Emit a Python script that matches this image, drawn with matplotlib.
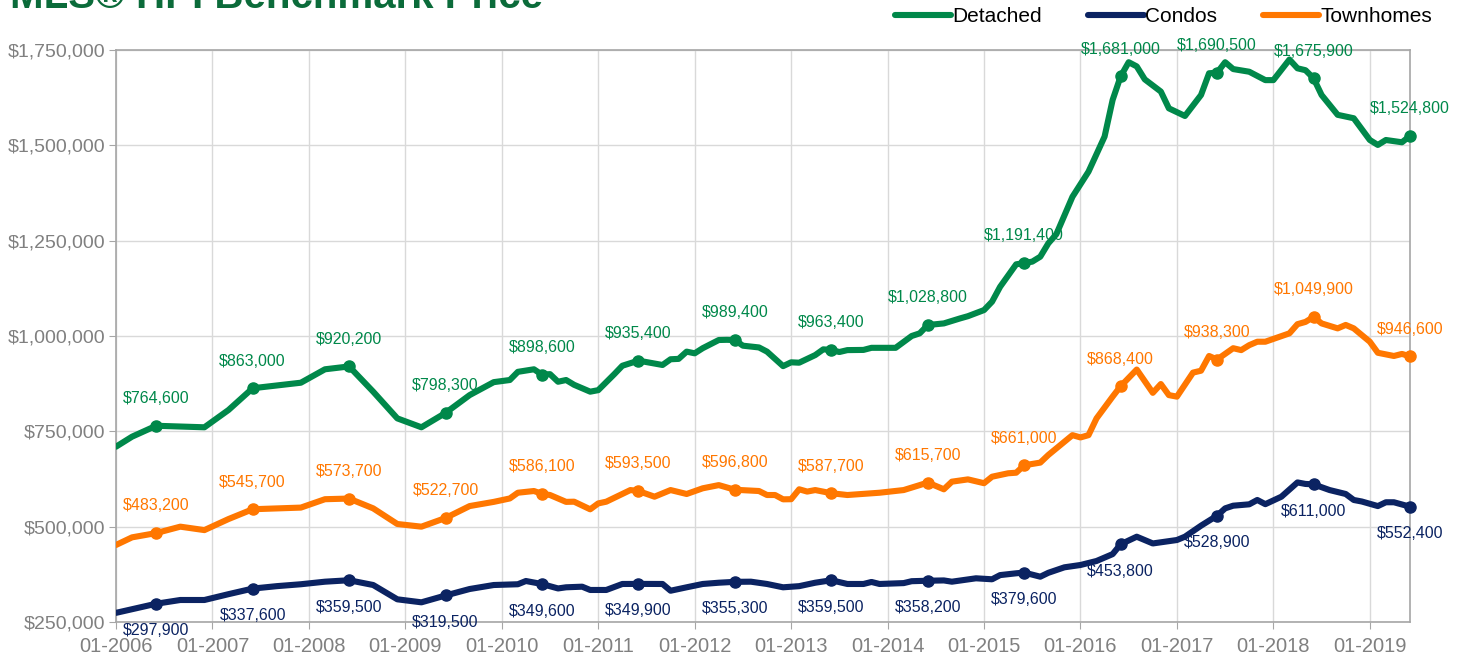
import matplotlib
matplotlib.use("Agg")
import matplotlib.pyplot as plt
from matplotlib.ticker import FuncFormatter
from matplotlib.lines import Line2D

plt.rcParams['font.family'] = ['Liberation Sans', 'DejaVu Sans']

# months counted from 01-2006 (0 = Jan 2006)
det_m = [0, 2, 5, 11, 14, 17, 23, 26, 29, 32, 35, 38, 41, 44, 47, 49, 50, 52, 53, 54, 55, 56,
         57, 59, 60, 62, 63, 65, 68, 69, 70, 71, 72, 73, 75, 76, 77, 78, 80, 81, 83, 84, 85, 87,
         88, 89, 90, 91, 93, 94, 97, 99, 100, 101, 103, 105, 106, 108, 109, 110, 112, 113, 114,
         115, 116, 117, 119, 121, 123, 124, 125, 126, 127, 128, 130, 131, 133, 135, 136, 137,
         138, 139, 141, 143, 144, 146, 147, 148, 149, 150, 152, 154, 156, 157, 158, 160, 161]
det_v = [709700, 736000, 764600, 760600, 806000, 863000, 877500, 912700, 920200, 854000, 784000,
         760600, 798300, 845000, 879000, 884600, 906000, 912700, 898600, 900000, 880000, 884600,
         872000, 854000, 858000, 900000, 922000, 935400, 924000, 939000, 940000, 959000, 954600,
         968000, 989500, 990000, 989400, 974600, 970000, 959000, 921000, 931000, 930000, 950000,
         965000, 963400, 958000, 963000, 963500, 969000, 969000, 1000000, 1007000, 1028800,
         1033000, 1046000, 1052000, 1068000, 1090000, 1129000, 1188000, 1191400, 1195000,
         1208000, 1243000, 1267000, 1365000, 1431000, 1523000, 1619000, 1681000, 1718000,
         1707000, 1673000, 1641000, 1597000, 1577000, 1632000, 1689000, 1690500, 1718000,
         1700000, 1693000, 1671000, 1671000, 1725000, 1702000, 1697000, 1675900, 1632000,
         1580000, 1571000, 1514000, 1501000, 1514000, 1508000, 1524800]

town_m = [0, 2, 5, 8, 11, 14, 17, 23, 26, 29, 32, 35, 38, 41, 44, 47, 49, 50, 52, 53, 54, 55, 56,
          57, 59, 60, 61, 64, 65, 67, 69, 71, 73, 75, 77, 80, 81, 82, 83, 84, 85, 86, 87, 89, 91,
          95, 98, 100, 101, 103, 104, 106, 108, 109, 111, 112, 113, 115, 116, 119, 120, 121, 122,
          124, 125, 127, 129, 130, 131, 132, 134, 135, 136, 137, 139, 140, 141, 142, 143, 146,
          147, 148, 149, 150, 152, 153, 154, 156, 157, 159, 160, 161]
town_v = [452000, 472000, 483200, 500000, 491000, 520000, 545700, 550000, 572000, 573700, 548000,
          507000, 500000, 522700, 554000, 565000, 574000, 589000, 593500, 586100, 583000, 574000,
          565000, 565500, 545500, 561000, 565500, 596000, 593500, 578600, 596000, 585700, 600600,
          609000, 596800, 593500, 583000, 583000, 571700, 572000, 598000, 592000, 596000, 587700,
          583000, 589000, 596000, 609000, 615700, 598000, 618000, 624000, 614000, 631000, 640000,
          641500, 661000, 668000, 688000, 740000, 734000, 740000, 784000, 841000, 868400, 912000,
          851000, 874000, 845000, 841000, 904000, 909000, 947600, 938300, 968000, 963000, 976000,
          985000, 985000, 1007000, 1031000, 1037000, 1049900, 1033000, 1020000, 1029000, 1020000,
          985000, 956000, 947600, 953000, 946600]

condo_m = [0, 5, 8, 11, 14, 17, 20, 23, 26, 29, 32, 35, 38, 41, 44, 47, 50, 51, 53, 55, 56, 58,
           59, 61, 63, 65, 68, 69, 71, 73, 75, 77, 79, 81, 83, 85, 87, 89, 91, 93, 94, 95, 98, 99,
           101, 103, 104, 107, 109, 110, 112, 113, 115, 116, 118, 120, 122, 124, 125, 127, 129,
           132, 133, 135, 137, 138, 139, 141, 142, 143, 145, 147, 148, 149, 151, 153, 154, 155,
           157, 158, 159, 161]
condo_v = [274000, 297900, 307700, 307700, 323000, 337600, 344000, 349000, 355700, 359500, 347000,
           309500, 301600, 319500, 336500, 347000, 349000, 357500, 349600, 338000, 341000, 342600,
           334000, 334000, 349700, 349900, 349700, 332000, 341000, 349700, 353000, 355300, 355700,
           349700, 341000, 344000, 353000, 359500, 349700, 349700, 355000, 349700, 352000, 357000,
           358200, 359000, 355700, 364600, 362000, 373000, 377700, 379600, 368800, 379000, 393400,
           399500, 410000, 428000, 453800, 473700, 456000, 465000, 473700, 502600, 528900, 548000,
           555000, 558600, 570000, 559000, 578600, 616000, 612000, 611000, 596000, 585700, 570000,
           566000, 554000, 564000, 564000, 552400]

# labelled points: June of each year
label_m = [5, 17, 29, 41, 53, 65, 77, 89, 101, 113, 125, 137, 149, 161]
det_lab = [764600, 863000, 920200, 798300, 898600, 935400, 989400, 963400, 1028800, 1191400,
           1681000, 1690500, 1675900, 1524800]
town_lab = [483200, 545700, 573700, 522700, 586100, 593500, 596800, 587700, 615700, 661000,
            868400, 938300, 1049900, 946600]
condo_lab = [297900, 337600, 359500, 319500, 349600, 349900, 355300, 359500, 358200, 379600,
             453800, 528900, 611000, 552400]

years = list(range(2006, 2020))

green = '#00884a'
navy = '#0b2362'
orange = '#ff7700'

fig = plt.figure(figsize=(14.64, 6.58), dpi=100)
ax = fig.add_axes([116 / 1464, 1 - 622 / 658, (1410 - 116) / 1464, (622 - 50) / 658])

series = [
    (det_m, det_v, det_lab, green, 1, 'Detached'),
    (condo_m, condo_v, condo_lab, navy, -1, 'Condos'),
    (town_m, town_v, town_lab, orange, 1, 'Townhomes'),
]
for xs, ys, labs, col, side, name in series:
    ax.plot(xs, ys, color=col, lw=4.4, solid_joinstyle='round', solid_capstyle='round', zorder=3)
    ax.plot(label_m, labs, 'o', color=col, ms=8, zorder=4, clip_on=False)
    for m, v in zip(label_m, labs):
        ax.annotate('${:,.0f}'.format(v), (m, v), xytext=(0, 19.5 * side),
                    textcoords='offset points', ha='center', va='center',
                    fontsize=11.5, color=col, zorder=5)

ax.set_xlim(0, 161)
ax.set_ylim(250000, 1750000)
ax.set_xticks([(y - 2006) * 12 for y in years])
ax.set_xticklabels(['01-%d' % y for y in years])
ax.set_yticks(range(250000, 1750001, 250000))
ax.yaxis.set_major_formatter(FuncFormatter(lambda v, p: '${:,.0f}'.format(v)))

ax.grid(True, color='#d9d9d9', lw=1, zorder=0)
ax.set_axisbelow(True)
for s in ax.spines.values():
    s.set_color('#a6a6a6')
    s.set_linewidth(1.2)
ax.tick_params(axis='y', colors='#a6a6a6', labelcolor='#808080', labelsize=14, length=5, pad=3)
ax.tick_params(axis='x', colors='#a6a6a6', labelcolor='#808080', labelsize=14.5, length=5, pad=6)

fig.text(10 / 1464, 1 - 8 / 658, 'MLS® HPI Benchmark Price', fontsize=29, fontweight='bold',
         color='#0b6b3a', ha='left', va='baseline')

handles = [Line2D([], [], color=c, lw=4.4, solid_capstyle='round') for _, _, _, c, _, _ in series]
fig.legend(handles, [s[5] for s in series], loc='center right',
           bbox_to_anchor=(1432 / 1464, 1 - 17 / 658), ncol=3, frameon=False, fontsize=15,
           handlelength=2.7, handletextpad=0.05, columnspacing=2.2, borderpad=0, borderaxespad=0)

fig.savefig('out.png', dpi=100, facecolor='white')
